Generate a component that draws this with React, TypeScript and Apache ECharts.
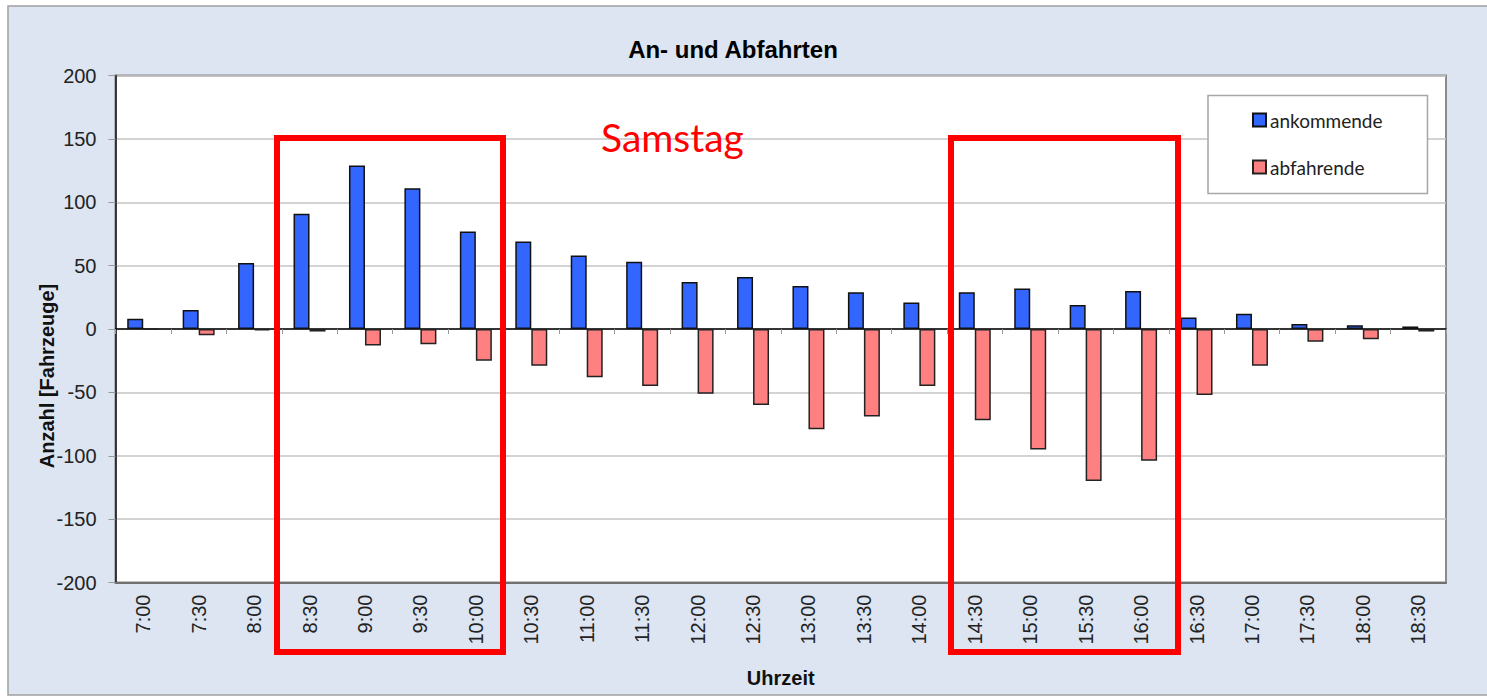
import React, { useEffect, useRef } from "react";
import * as echarts from "echarts";

const categories = [
  "7:00", "7:30", "8:00", "8:30", "9:00", "9:30", "10:00", "10:30",
  "11:00", "11:30", "12:00", "12:30", "13:00", "13:30", "14:00", "14:30",
  "15:00", "15:30", "16:00", "16:30", "17:00", "17:30", "18:00", "18:30",
];
const ankommende = [8, 15, 52, 91, 129, 111, 77, 69, 58, 53, 37, 41, 34, 29, 21, 29, 32, 19, 30, 9, 12, 4, 3, 2];
const abfahrende = [0, -5, -1, -2, -13, -12, -25, -29, -38, -45, -51, -60, -79, -69, -45, -72, -95, -120, -104, -52, -29, -10, -8, -2];
const yMin = -200;
const yMax = 200;
const yInterval = 50;

const title = "An- und Abfahrten";
const yName = "Anzahl [Fahrzeuge]";
const xName = "Uhrzeit";
const seriesNames = ["ankommende", "abfahrende"];
const annotation = "Samstag";

export default function App() {
  const ref = useRef<HTMLDivElement>(null);
  useEffect(() => {
    if (!ref.current) return;
    const chart = echarts.init(ref.current, null, { renderer: "svg" });
    const axisFont = { fontFamily: "Arial, 'Liberation Sans', sans-serif", fontSize: 20, color: "#222" };
    chart.setOption({
      animation: false,
      backgroundColor: "#ffffff",
      title: {
        text: title,
        left: 728,
        top: 32,
        textAlign: "center",
        textStyle: { fontFamily: "Arial, 'Liberation Sans', sans-serif", fontSize: 24, fontWeight: "bold", color: "#000" },
      },
      grid: {
        left: 115.5,
        top: 75.5,
        right: 41,
        bottom: 114.5,
        show: true,
        backgroundColor: "#ffffff",
        borderColor: "#8a8a8a",
        borderWidth: 2,
        containLabel: false,
      },
      legend: {
        orient: "vertical",
        left: 1208,
        top: 95.5,
        padding: [15, 45, 17, 44],
        itemGap: 28,
        itemWidth: 13,
        itemHeight: 13,
        icon: "rect",
        backgroundColor: "#ffffff",
        borderColor: "#a6a6a6",
        borderWidth: 1.5,
        textStyle: { fontFamily: "Lato, 'Open Sans', sans-serif", fontSize: 19, color: "#222", lineHeight: 18, padding: [0, 0, 0, -1] },
        data: seriesNames,
      },
      xAxis: [
        {
          type: "category",
          data: categories,
          position: "bottom",
          name: xName,
          nameLocation: "middle",
          nameGap: 85,
          nameTextStyle: { fontFamily: "Arial, 'Liberation Sans', sans-serif", fontSize: 20, fontWeight: "bold", color: "#111" },
          axisLine: { onZero: false, lineStyle: { color: "#707070", width: 2 } },
          axisTick: { show: false },
          axisLabel: { ...axisFont, rotate: 90, margin: 12, interval: 0 },
          splitLine: { show: false },
        },
        {
          type: "category",
          data: categories,
          position: "top",
          axisLine: { onZero: true, lineStyle: { color: "#000", width: 1.5 } },
          axisTick: { show: true, inside: true, length: 5, lineStyle: { color: "#999", width: 1 } },
          axisLabel: { show: false },
          splitLine: { show: false },
        },
      ],
      yAxis: {
        type: "value",
        min: yMin,
        max: yMax,
        interval: yInterval,
        axisLine: { show: true, lineStyle: { color: "#111", width: 1.5 } },
        axisTick: { show: true, length: 7, lineStyle: { color: "#999", width: 1 } },
        axisLabel: { ...axisFont, margin: 19 },
        splitLine: { show: true, lineStyle: { color: "#c4c4c4", width: 1.5 } },
      },
      series: [
        {
          name: seriesNames[0],
          type: "bar",
          data: ankommende,
          xAxisIndex: 0,
          barWidth: 16,
          barGap: "0%",
          itemStyle: { color: "#3366ff", borderColor: "#111", borderWidth: 1.5 },
        },
        {
          name: seriesNames[1],
          type: "bar",
          data: abfahrende,
          xAxisIndex: 0,
          barWidth: 16,
          barGap: "0%",
          itemStyle: { color: "#ff8080", borderColor: "#222", borderWidth: 1.5 },
        },
      ],
      graphic: [
        {
          type: "rect",
          z: -100,
          silent: true,
          shape: { x: 8, y: 6, width: 1500, height: 689 },
          style: { fill: "#dce5f1", stroke: "#a0a0a0", lineWidth: 1.5 },
        },
        {
          type: "text",
          z: 50,
          silent: true,
          x: 47,
          y: 376,
          rotation: Math.PI / 2,
          style: {
            text: yName,
            fill: "#111",
            font: "bold 20px Arial, 'Liberation Sans', sans-serif",
            textAlign: "center",
            textVerticalAlign: "middle",
          },
        },
        {
          type: "rect",
          z: 100,
          silent: true,
          shape: { x: 277, y: 138, width: 226, height: 514 },
          style: { fill: "none", stroke: "#ff0000", lineWidth: 6 },
        },
        {
          type: "rect",
          z: 100,
          silent: true,
          shape: { x: 951, y: 138, width: 227, height: 514 },
          style: { fill: "none", stroke: "#ff0000", lineWidth: 6 },
        },
        {
          type: "text",
          z: 100,
          silent: true,
          x: 601,
          y: 137,
          style: {
            text: annotation,
            fill: "#ff0000",
            font: "39px Lato, 'Open Sans', sans-serif",
            textVerticalAlign: "middle",
          },
        },
      ],
    });
    return () => chart.dispose();
  }, []);
  return (
    <div
      ref={ref}
      style={{ position: "fixed", left: 0, top: 0, width: 1487, height: 697 }}
    />
  );
}
